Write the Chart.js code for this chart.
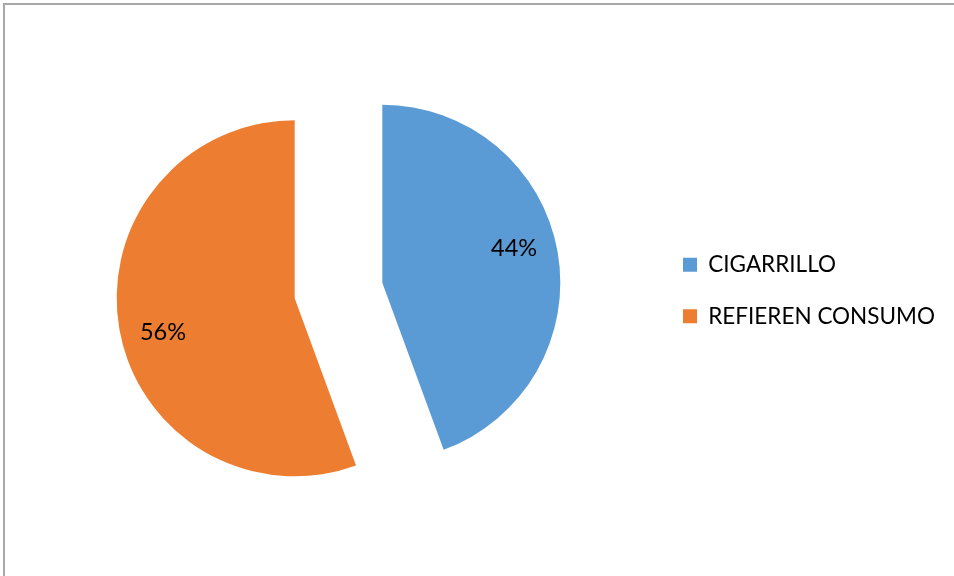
<!DOCTYPE html>
<html>
<head>
<meta charset="utf-8">
<script src="https://cdn.jsdelivr.net/npm/chart.js@4.4.0/dist/chart.umd.min.js"></script>
<style>
  body { margin: 0; background: #fff; }
  #wrap { position: relative; width: 954px; height: 576px; overflow: hidden; }
  #frame { position: absolute; left: 3px; top: 3px; width: 1000px; height: 1000px;
           border-left: 2px solid #a8a8a8; border-top: 2px solid #a8a8a8; pointer-events: none; }
</style>
</head>
<body>
<div id="wrap">
  <canvas id="myChart" width="954" height="576"></canvas>
  <div id="frame"></div>
</div>
<script>
const categorias = ['CIGARRILLO', 'REFIEREN CONSUMO'];
const porcentajes = [44.4, 55.6];
const colores = ['#5B9BD5', '#ED7D31'];

const fuente = 'Lato';
const tamLeyenda = 22.5;
const tamEtiqueta = 23.5;
const radio = 178;
const explosion = 44.5;   // separacion de cada porcion desde el centro
const padLeyenda = 29;
const cajaLeyenda = 14;

// ancho de la leyenda para dejar el centro del pastel donde va
const medir = document.createElement('canvas').getContext('2d');
medir.font = tamLeyenda + 'px ' + fuente;
const anchoTexto = Math.max(...categorias.map(t => medir.measureText(t).width));
const leyendaIzq = 654;
const anchoLeyenda = padLeyenda + cajaLeyenda + tamLeyenda / 2 + anchoTexto + 10;
const padDer = Math.max(954 - leyendaIzq - anchoLeyenda, 0);
const padIzq = 677 - leyendaIzq;

// pastel "explotado": cada porcion se aleja del centro por su angulo medio
const explotar = {
  id: 'explotar',
  afterDatasetUpdate(chart, args) {
    args.meta.data.forEach(arc => {
      const medio = (arc.startAngle + arc.endAngle) / 2;
      arc.x += Math.cos(medio) * explosion;
      arc.y += Math.sin(medio) * explosion;
    });
  }
};

const etiquetas = {
  id: 'etiquetas',
  afterDatasetsDraw(chart) {
    const ctx = chart.ctx;
    const meta = chart.getDatasetMeta(0);
    const total = porcentajes.reduce((a, b) => a + b, 0);
    ctx.save();
    ctx.font = tamEtiqueta + 'px ' + fuente;
    ctx.fillStyle = '#000';
    ctx.textAlign = 'center';
    ctx.textBaseline = 'middle';
    meta.data.forEach((arc, i) => {
      const ang = (arc.startAngle + arc.endAngle) / 2 - 0.08;
      const r = radio * 0.765;
      const texto = Math.round(porcentajes[i] / total * 100) + '%';
      ctx.fillText(texto, arc.x + Math.cos(ang) * r, arc.y + Math.sin(ang) * r);
    });
    ctx.restore();
  }
};

const ctx = document.getElementById('myChart').getContext('2d');
const myChart = new Chart(ctx, {
  type: 'pie',
  data: {
    labels: categorias,
    datasets: [{
      data: porcentajes,
      backgroundColor: colores,
      borderWidth: 0
    }]
  },
  options: {
    responsive: false,
    animation: false,
    radius: radio,
    layout: {
      padding: { left: padIzq, right: padDer, top: 5, bottom: 0 }
    },
    plugins: {
      tooltip: { enabled: false },
      legend: {
        position: 'right',
        align: 'center',
        labels: {
          boxWidth: cajaLeyenda,
          boxHeight: cajaLeyenda,
          padding: padLeyenda,
          color: '#000',
          font: { family: fuente, size: tamLeyenda }
        }
      }
    }
  },
  plugins: [explotar, etiquetas]
});
</script>
</body>
</html>
